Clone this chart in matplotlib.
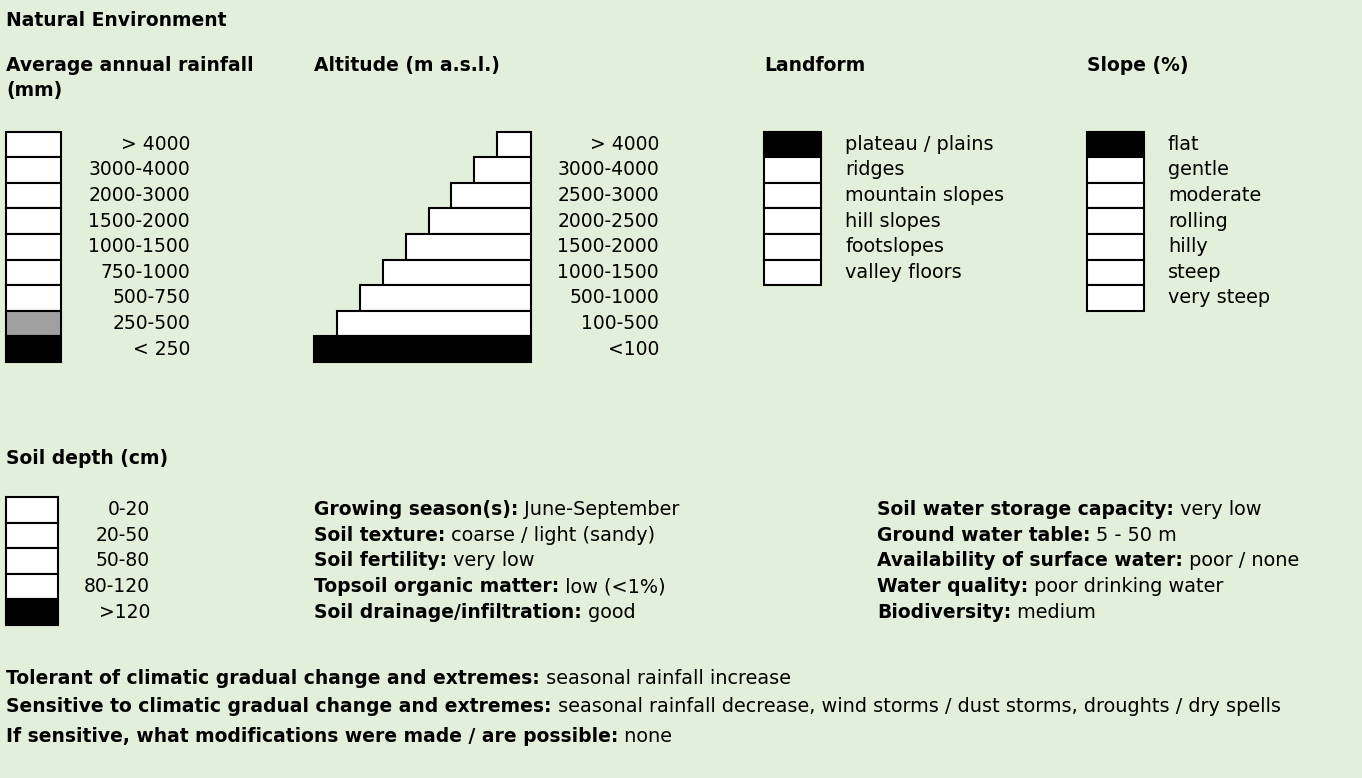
import matplotlib.pyplot as plt
from matplotlib.patches import Rectangle

# data (0 = not selected, 1 = partly, 2 = selected)
rainfall_classes = ["> 4000", "3000-4000", "2000-3000", "1500-2000", "1000-1500",
                    "750-1000", "500-750", "250-500", "< 250"]
rainfall_level = [0, 0, 0, 0, 0, 0, 0, 1, 2]

altitude_classes = ["> 4000", "3000-4000", "2500-3000", "2000-2500", "1500-2000",
                    "1000-1500", "500-1000", "100-500", "<100"]
altitude_level = [0, 0, 0, 0, 0, 0, 0, 0, 2]

landform_classes = ["plateau / plains", "ridges", "mountain slopes", "hill slopes",
                    "footslopes", "valley floors"]
landform_level = [2, 0, 0, 0, 0, 0]

slope_classes = ["flat", "gentle", "moderate", "rolling", "hilly", "steep", "very steep"]
slope_level = [2, 0, 0, 0, 0, 0, 0]

soil_depth_classes = ["0-20", "20-50", "50-80", "80-120", ">120"]
soil_depth_level = [0, 0, 0, 0, 2]

site_left = [("Growing season(s):", "June-September"),
             ("Soil texture:", "coarse / light (sandy)"),
             ("Soil fertility:", "very low"),
             ("Topsoil organic matter:", "low (<1%)"),
             ("Soil drainage/infiltration:", "good")]
site_right = [("Soil water storage capacity:", "very low"),
              ("Ground water table:", "5 - 50 m"),
              ("Availability of surface water:", "poor / none"),
              ("Water quality:", "poor drinking water"),
              ("Biodiversity:", "medium")]
climate_notes = [("Tolerant of climatic gradual change and extremes:", "seasonal rainfall increase"),
                 ("Sensitive to climatic gradual change and extremes:",
                  "seasonal rainfall decrease, wind storms / dust storms, droughts / dry spells"),
                 ("If sensitive, what modifications were made / are possible:", "none")]

W, H = 1362, 778
bg = "#e2efda"
fill = {0: "white", 1: "#a0a0a0", 2: "black"}
fs_b = 13.5   # bold
fs_n = 13.5   # numeric labels
fs_t = 13.9   # plain text
row_h = 25.6

plt.rcParams['font.family'] = 'DejaVu Sans'
fig = plt.figure(figsize=(W / 100, H / 100), dpi=100, facecolor=bg)
ax = fig.add_axes([0, 0, 1, 1])
ax.set_xlim(0, W)
ax.set_ylim(H, 0)
ax.axis('off')


def boxes(x0, width, top, levels):
    for i, lv in enumerate(levels):
        ax.add_patch(Rectangle((x0, top + i * row_h), width, row_h,
                               facecolor=fill[lv], edgecolor='black', lw=1.5))


def labelled(x, y, bold, value):
    t = ax.text(x, y, bold, fontsize=fs_b, fontweight='bold', va='center')
    ax.annotate(" " + value, xy=(1, y), xycoords=(t, 'data'),
                fontsize=fs_t, va='center')


ax.text(6, 20.5, "Natural Environment", fontsize=fs_b, fontweight='bold', va='center')

# headers
hy = 65
ax.text(6, hy, "Average annual rainfall", fontsize=fs_b, fontweight='bold', va='center')
ax.text(6, hy + 25, "(mm)", fontsize=fs_b, fontweight='bold', va='center')
ax.text(314, hy, "Altitude (m a.s.l.)", fontsize=fs_b, fontweight='bold', va='center')
ax.text(764, hy, "Landform", fontsize=fs_b, fontweight='bold', va='center')
ax.text(1087, hy, "Slope (%)", fontsize=fs_b, fontweight='bold', va='center')

top = 131.5
# rainfall
boxes(6, 55, top, rainfall_level)
for i, lab in enumerate(rainfall_classes):
    ax.text(190, top + (i + 0.5) * row_h, lab, fontsize=fs_n, ha='right', va='center')

# altitude staircase
n = len(altitude_classes)
step = 22.9
for i, lv in enumerate(altitude_level):
    w = 217 - step * (n - 1 - i)
    ax.add_patch(Rectangle((531 - w, top + i * row_h), w, row_h,
                           facecolor=fill[lv], edgecolor='black', lw=1.5))
    ax.text(659, top + (i + 0.5) * row_h, altitude_classes[i], fontsize=fs_n,
            ha='right', va='center')

# landform
boxes(764, 57, top, landform_level)
for i, lab in enumerate(landform_classes):
    ax.text(845, top + (i + 0.5) * row_h, lab, fontsize=fs_t, va='center')

# slope
boxes(1087, 57, top, slope_level)
for i, lab in enumerate(slope_classes):
    ax.text(1168, top + (i + 0.5) * row_h, lab, fontsize=fs_t, va='center')

# soil depth
ax.text(6, 458, "Soil depth (cm)", fontsize=fs_b, fontweight='bold', va='center')
stop = 497
boxes(6, 52, stop, soil_depth_level)
for i, lab in enumerate(soil_depth_classes):
    ax.text(150, stop + (i + 0.5) * row_h, lab, fontsize=fs_n, ha='right', va='center')

for i, (b, v) in enumerate(site_left):
    labelled(314, stop + (i + 0.5) * row_h, b, v)
for i, (b, v) in enumerate(site_right):
    labelled(877, stop + (i + 0.5) * row_h, b, v)

for i, (b, v) in enumerate(climate_notes):
    labelled(6, 678 + i * 29, b, v)

fig.savefig("out.png", dpi=100, facecolor=bg)
